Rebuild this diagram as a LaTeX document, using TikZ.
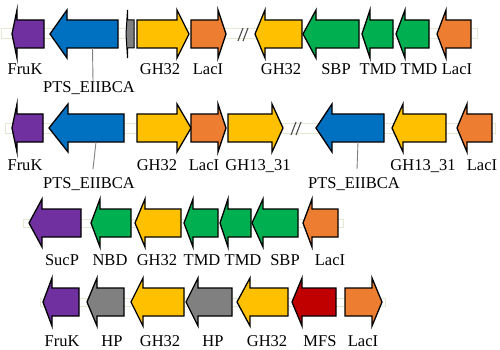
\documentclass[tikz,border=0pt]{standalone}
\usepackage{fontspec}
\setmainfont{Liberation Serif}
\definecolor{cPurple}{HTML}{7030A0}
\definecolor{cBlue}{HTML}{0070C0}
\definecolor{cGrey}{HTML}{808080}
\definecolor{cYellow}{HTML}{FFC000}
\definecolor{cOrange}{HTML}{ED7D31}
\definecolor{cGreen}{HTML}{00B050}
\definecolor{cRed}{HTML}{C00000}
\definecolor{cSpine}{HTML}{E4E9D2}
\tikzset{
  gene/.style={draw=black, line width=1.3pt, line join=miter},
  spine/.style={draw=cSpine, line width=1pt, fill=white},
  glabel/.style={font=\fontsize{16.5}{16.5}\selectfont, inner sep=0pt, anchor=base},
  lead/.style={draw=cGrey, line width=0.9pt},
  gap/.style={draw=black!70, line width=1.1pt},
}
% left-pointing gene: name, tip x, head base x, right x, centre y, colour
\newcommand\geneL[6]{%
  \filldraw[gene, fill=#6] (#2,#5) -- (#3,#5-24) -- (#3,#5-14) -- (#4,#5-14)
    -- (#4,#5+14) -- (#3,#5+14) -- (#3,#5+24) -- cycle;
  \coordinate (#1) at ({(#3+#4)/2},#5+14);}
% right-pointing gene: name, left x, head base x, tip x, centre y, colour
\newcommand\geneR[6]{%
  \filldraw[gene, fill=#6] (#4,#5) -- (#3,#5-24) -- (#3,#5-14) -- (#2,#5-14)
    -- (#2,#5+14) -- (#3,#5+14) -- (#3,#5+24) -- cycle;
  \coordinate (#1) at ({(#2+#3)/2},#5+14);}
\begin{document}
\begin{tikzpicture}[x=1pt, y=-1pt]
\useasboundingbox (0,0) rectangle (500,350);

% backbones
\draw[spine] (1,29) rectangle (477,39);
\draw[spine] (5,123) rectangle (495,133);
\draw[spine] (23,219) rectangle (343,227);
\draw[spine] (40,298) rectangle (385,306);

% ---- row 1
\geneL{a1}{12}{17}{44}{34}{cPurple}
\geneL{a2}{50}{67}{118}{34}{cBlue}
\filldraw[gene, fill=cGrey, line width=1pt] (126,34) -- (127.5,10) -- (127.5,20) -- (134,20)
  -- (134,48) -- (127.5,48) -- (127.5,58) -- cycle;
\coordinate (a3) at (131,48);
\geneR{a4}{137}{177}{189}{34}{cYellow}
\geneR{a5}{191}{218}{226}{34}{cOrange}
\draw[gap] (238,41) -- (243,28) (243,41) -- (248,28);
\geneL{a6}{255}{265}{302}{34}{cYellow}
\geneL{a7}{303}{316}{359}{34}{cGreen}
\geneL{a8}{362}{370}{393}{34}{cGreen}
\geneL{a9}{396}{405}{429}{34}{cGreen}
\geneL{a10}{437}{446}{471}{34}{cOrange}

\node[glabel] (la1) at (25,75) {FruK};
\node[glabel] (la4) at (160,75) {GH32};
\node[glabel] (la5) at (208,75) {LacI};
\node[glabel] (la6) at (281,75) {GH32};
\node[glabel] (la7) at (336,75) {SBP};
\node[glabel] (la8) at (378,75) {TMD};
\node[glabel] (la9) at (419,75) {TMD};
\node[glabel] (la10) at (457,75) {LacI};
\node[glabel] (la2) at (89,93) {PTS\_EIIBCA};
\coordinate (ta2) at (93,81);
\draw[lead] (a2) -- (ta2);

% ---- row 2
\geneL{b1}{12}{17}{43}{128}{cPurple}
\geneL{b2}{49}{68}{124}{128}{cBlue}
\geneR{b3}{137}{177}{191}{128}{cYellow}
\geneR{b4}{191}{218}{226}{128}{cOrange}
\geneR{b5}{228}{272}{283}{128}{cYellow}
\draw[gap] (291,135) -- (296,122) (296,135) -- (301,122);
\geneL{b6}{316}{332}{384}{128}{cBlue}
\geneL{b7}{392}{403}{446}{128}{cYellow}
\geneL{b8}{457}{467}{492}{128}{cOrange}

\node[glabel] (lb1) at (25,170) {FruK};
\node[glabel] (lb3) at (157,170) {GH32};
\node[glabel] (lb4) at (204,170) {LacI};
\node[glabel] (lb5) at (258,170) {GH13\_31};
\node[glabel] (lb7) at (423,170) {GH13\_31};
\node[glabel] (lb8) at (482,170) {LacI};
\node[glabel] (lb2) at (89,188) {PTS\_EIIBCA};
\node[glabel] (lb6) at (354,188) {PTS\_EIIBCA};
\coordinate (tb2) at (93,169);
\coordinate (tb6) at (357,169);
\draw[lead] (b2) -- (tb2);
\draw[lead] (b6) -- (tb6);

% ---- row 3
\geneL{c1}{29}{42}{81}{223}{cPurple}
\geneL{c2}{91}{100}{131}{223}{cGreen}
\geneL{c3}{135}{145}{181}{223}{cYellow}
\geneL{c4}{184}{193}{218}{223}{cGreen}
\geneL{c5}{220}{228}{251}{223}{cGreen}
\geneL{c6}{252}{263}{298}{223}{cGreen}
\geneL{c7}{303}{312}{338}{223}{cOrange}

\node[glabel] (lc1) at (62,265) {SucP};
\node[glabel] (lc2) at (110,265) {NBD};
\node[glabel] (lc3) at (157,265) {GH32};
\node[glabel] (lc4) at (202,265) {TMD};
\node[glabel] (lc5) at (243,265) {TMD};
\node[glabel] (lc6) at (285,265) {SBP};
\node[glabel] (lc7) at (330,265) {LacI};

% ---- row 4
\geneL{d1}{43}{52}{79}{302}{cPurple}
\geneL{d2}{87}{97}{124}{302}{cGrey}
\geneL{d3}{131}{143}{184}{302}{cYellow}
\geneL{d4}{186}{198}{232}{302}{cGrey}
\geneL{d5}{237}{250}{288}{302}{cYellow}
\geneL{d6}{292}{302}{336}{302}{cRed}
\geneR{d7}{345}{372}{382}{302}{cOrange}

\node[glabel] (ld1) at (62,346) {FruK};
\node[glabel] (ld2) at (112,346) {HP};
\node[glabel] (ld3) at (160,346) {GH32};
\node[glabel] (ld4) at (213,346) {HP};
\node[glabel] (ld5) at (267,346) {GH32};
\node[glabel] (ld6) at (320,346) {MFS};
\node[glabel] (ld7) at (363,346) {LacI};
\end{tikzpicture}
\end{document}
